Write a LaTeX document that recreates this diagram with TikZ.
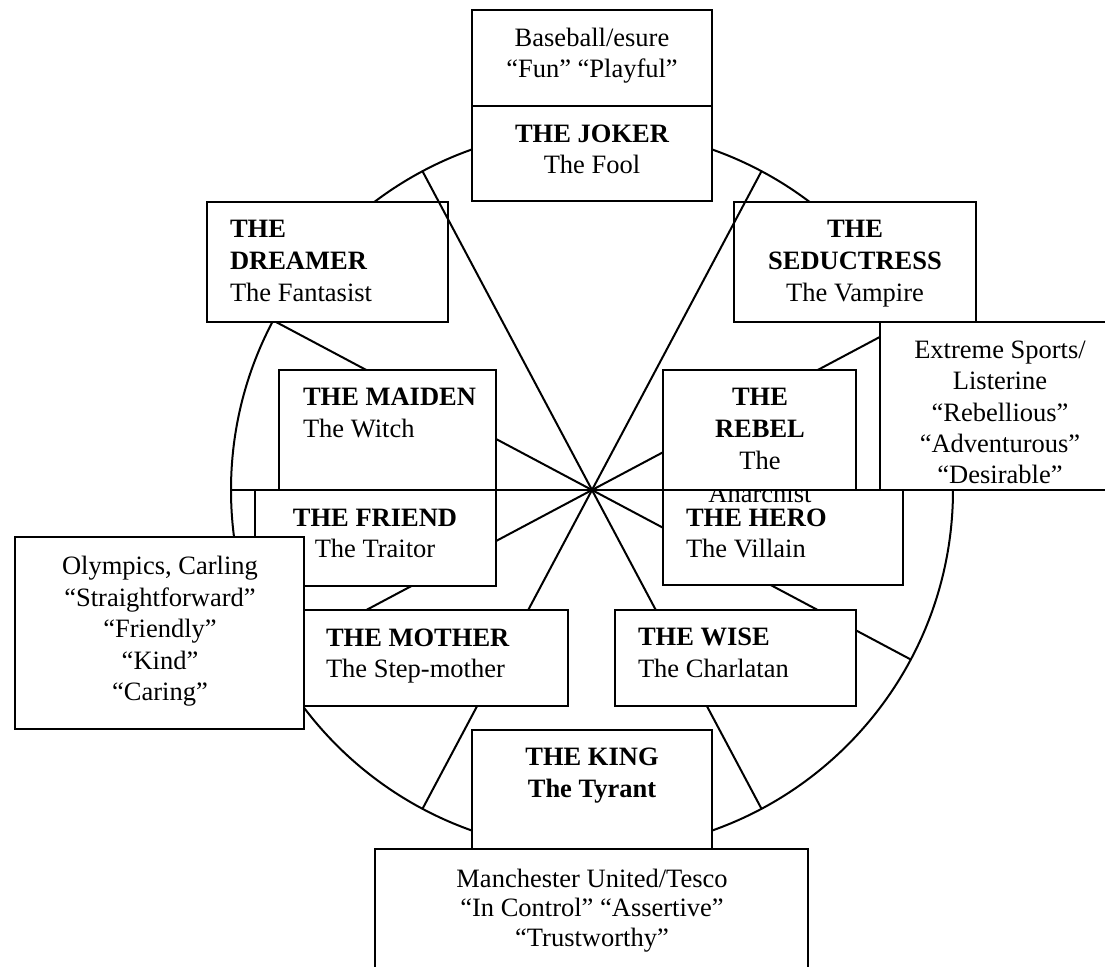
\documentclass[tikz,border=0pt]{standalone}
\usepackage{fontspec}
\setmainfont{Liberation Serif}
\begin{document}
\begin{tikzpicture}[x=0.5pt,y=-0.5pt,line width=1pt,
  boxs/.style={draw=black,fill=white},
  t/.style={inner sep=0pt,font=\fontsize{13.25}{15.8}\selectfont,anchor=base},
  tl/.style={t,anchor=base west},
  tb/.style={t,font=\fontsize{13.25}{15.8}\selectfont\bfseries},
  tbl/.style={tb,anchor=base west}]
\clip (0,0) rectangle (1105,966);
\coordinate (c) at (592,490);
% wheel
\draw (c) circle [radius=180.5pt];
\foreach \a in {0,28,152,180,208,242,298,332}
  \draw (c) -- ++(\a:180.5pt);
% boxes
\path[boxs] (880,322) rectangle (1130,490);
\path[boxs] (734,202) rectangle (976,322);
\path[boxs] (472,10) rectangle (712,106);
\path[boxs] (472,106) rectangle (712,201);
\path[boxs] (207,202) rectangle (448,322);
\path[boxs] (279,370) rectangle (496,490);
\path[boxs] (663,370) rectangle (856,490);
\path[boxs] (663,490) rectangle (903,585);
\path[boxs] (255,490) rectangle (496,586);
\path[boxs] (300,610) rectangle (568,706);
\path[boxs] (15,537) rectangle (304,729);
\path[boxs] (615,610) rectangle (856,706);
\path[boxs] (472,730) rectangle (712,849);
\path[boxs] (375,849) rectangle (808,1000);
% steep upper spokes lie over the box corners
\draw (c) -- ++(62:180.5pt);
\draw (c) -- ++(118:180.5pt);
% texts
\node[t] (bb1) at (592,46) {Baseball/esure};
\node[t] (bb2) at (592,77) {“Fun” “Playful”};
\node[tb] (jk1) at (592,142) {THE JOKER};
\node[t] (jk2) at (592,173) {The Fool};
\node[tbl] (dr1) at (229,237) {THE};
\node[tbl] (dr2) at (229,269) {DREAMER};
\node[tl] (dr3) at (229,301) {The Fantasist};
\node[tb] (se1) at (855,237) {THE};
\node[tb] (se2) at (855,269) {SEDUCTRESS};
\node[t] (se3) at (855,301) {The Vampire};
\node[tbl] (ma1) at (302,405) {THE MAIDEN};
\node[tl] (ma2) at (302,437) {The Witch};
\node[tb] (re1) at (760,405) {THE};
\node[tb] (re2) at (760,437) {REBEL};
\node[t] (re3) at (760,469) {The};
\begin{scope}
  \clip (663,491) rectangle (903,585);
  \node[t] (re4) at (760,502) {Anarchist};
\end{scope}
\node[t] (ex1) at (1000,358) {Extreme Sports/};
\node[t] (ex2) at (1000,389) {Listerine};
\node[t] (ex3) at (1000,421) {“Rebellious”};
\node[t] (ex4) at (1000,452) {“Adventurous”};
\node[t] (ex5) at (1000,483) {“Desirable”};
\node[tb] (fr1) at (375,526) {THE FRIEND};
\node[t] (fr2) at (375,557) {The Traitor};
\node[tbl] (he1) at (685,526) {THE HERO};
\node[tl] (he2) at (685,557) {The Villain};
\node[t] (ol1) at (160,574) {Olympics, Carling};
\node[t] (ol2) at (160,606) {“Straightforward”};
\node[t] (ol3) at (160,637) {“Friendly”};
\node[t] (ol4) at (160,669) {“Kind”};
\node[t] (ol5) at (160,700) {“Caring”};
\node[tbl] (mo1) at (325,646) {THE MOTHER};
\node[tl] (mo2) at (325,677) {The Step-mother};
\node[tbl] (wi1) at (637,645) {THE WISE};
\node[tl] (wi2) at (637,677) {The Charlatan};
\node[tb] (ki1) at (592,765) {THE KING};
\node[tb] (ki2) at (592,797) {The Tyrant};
\node[t] (mu1) at (592,887) {Manchester United/Tesco};
\node[t] (mu2) at (592,916) {“In Control” “Assertive”};
\node[t] (mu3) at (592,946) {“Trustworthy”};
\end{tikzpicture}
\end{document}
